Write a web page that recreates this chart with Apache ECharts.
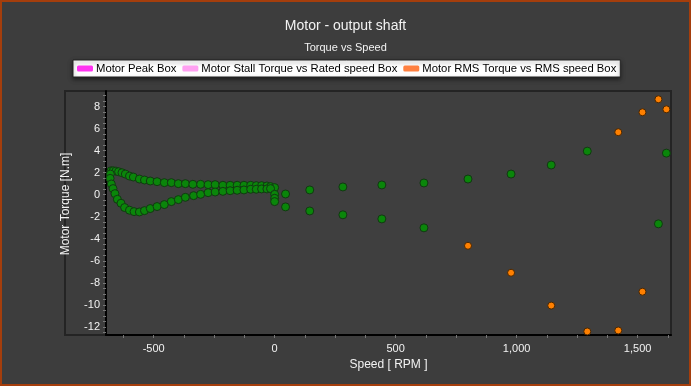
<!DOCTYPE html>
<html>
<head>
<meta charset="utf-8">
<script src="https://cdn.jsdelivr.net/npm/echarts@6/dist/echarts.min.js"></script>
<style>
html,body{margin:0;padding:0;background:#3d3d3d;}
#c{width:691px;height:386px;}
</style>
</head>
<body>
<div id="c"></div>
<script>
// Motor curve (green) - speed [RPM] and torque [N.m]
var motorSpeed = [
  -676,-667,-656,-645,-631,-617,-600,-584,-559,-538,-514,-486,-456,-427,-398,-369,-338,-306,-275,-246,-214,-184,-155,-127,-99,-76,-54,-32,-17,0,
  -679,-680,-675,-668,-660,-650,-635,-620,-600,-581,-559,-538,-514,-486,-456,-427,-398,-369,-335,-306,-275,-246,-214,-184,-155,-127,-99,-76,-54,-32,-17,
  0,0,0,
  45,45,145,145,282,282,443,443,617,617,799,977,1143,1292,1619,1586
];
var motorTorque = [
  2.17,2.17,2.14,2.08,1.99,1.87,1.69,1.60,1.42,1.33,1.24,1.18,1.09,1.09,1.00,1.00,0.94,0.94,0.91,0.91,0.85,0.85,0.85,0.85,0.85,0.82,0.82,0.79,0.73,0.64,
  1.87,1.48,0.97,0.55,0.09,-0.42,-0.78,-1.17,-1.41,-1.54,-1.57,-1.45,-1.26,-1.08,-0.90,-0.63,-0.45,-0.24,-0.09,0.03,0.18,0.24,0.30,0.36,0.40,0.43,0.49,0.49,0.52,0.52,0.55,
  0.03,-0.33,-0.63,
  0.06,-1.11,0.43,-1.48,0.70,-1.83,0.88,-2.20,1.06,-3.01,1.42,1.87,2.69,3.95,3.77,-2.65
];
// RMS box points (orange)
var rmsSpeed  = [799,977,1143,1292,1420,1520,1420,1520,1586,1619];
var rmsTorque = [-4.64,-7.09,-10.07,-12.42,-12.33,-8.81,5.67,7.48,8.66,7.75];

var legendNames = ['Motor Peak Box','Motor Stall Torque vs Rated speed Box','Motor RMS Torque vs RMS speed Box'];
var legendColors = ['#ff00ee','#ff88ee','#ff8040'];
var xLabels = [-500,0,500,1000,1500];
var yLabels = [-12,-10,-8,-6,-4,-2,0,2,4,6,8];

function zip(a,b){var r=[];for(var i=0;i<a.length;i++)r.push([a[i],b[i]]);return r;}
var xTicks=[];for(var v=-625;v<=1625;v+=125)xTicks.push(v);
var yTicks=[];for(var w=-12.5;w<=9;w+=0.5)yTicks.push(w);

var chart = echarts.init(document.getElementById('c'));
chart.setOption({
  backgroundColor:'#3d3d3d',
  animation:false,
  title:{
    text:'Motor - output shaft',
    subtext:'Torque vs Speed',
    left:'center', top:14, itemGap:9,
    textStyle:{color:'#f2f2f2',fontSize:14,fontWeight:'normal',fontFamily:'Liberation Sans'},
    subtextStyle:{color:'#f2f2f2',fontSize:11,fontFamily:'Liberation Sans'}
  },
  legend:{
    data: legendNames.map(function(n,i){return {name:n,itemStyle:{color:legendColors[i],borderWidth:0}};}),
    left:73, top:60,
    backgroundColor:'#ffffff', borderColor:'#222', borderWidth:1, borderRadius:0,
    padding:[3,4,3,4], itemGap:6,
    itemWidth:16, itemHeight:6, icon:'roundRect',
    shadowBlur:4, shadowColor:'rgba(0,0,0,0.5)', shadowOffsetY:2,
    textStyle:{color:'#000',fontSize:11.3,fontFamily:'Liberation Sans',padding:[0,0,0,-2]},
    selectedMode:false
  },
  grid:{left:106,right:20,top:91,bottom:51,show:true,borderColor:'#242424',borderWidth:2,backgroundColor:'#3f3f3f'},
  graphic:[
    {type:'rect',shape:{x:65,y:91,width:41,height:244},style:{fill:'none',stroke:'#242424',lineWidth:2},z:-1},
    {type:'rect',shape:{x:1,y:1,width:689,height:384},style:{fill:'none',stroke:'#a53e0c',lineWidth:2},z:10}
  ],
  xAxis:{
    type:'value', min:-697, max:1638,
    name:'Speed [ RPM ]', nameLocation:'middle', nameGap:23,
    nameTextStyle:{color:'#f2f2f2',fontSize:12,fontFamily:'Liberation Sans'},
    axisLine:{show:true,onZero:false,lineStyle:{color:'#000',width:2}},
    axisTick:{show:true,customValues:xTicks,length:3,lineStyle:{color:'#777'}},
    axisLabel:{customValues:xLabels,color:'#f2f2f2',fontSize:11,fontFamily:'Liberation Sans',margin:8,
      formatter:function(v){return v.toLocaleString('en-US');}},
    splitLine:{show:false}
  },
  yAxis:{
    type:'value', min:-12.74, max:9.41,
    name:'Motor Torque [N.m]', nameLocation:'middle', nameGap:34, nameRotate:90,
    nameTextStyle:{color:'#f2f2f2',fontSize:12,fontFamily:'Liberation Sans',padding:[0,0,0,18]},
    axisLine:{show:true,onZero:false,lineStyle:{color:'#000',width:2}},
    axisTick:{show:true,customValues:yTicks,length:3,lineStyle:{color:'#777'}},
    axisLabel:{customValues:yLabels,color:'#f2f2f2',fontSize:11,fontFamily:'Liberation Sans',margin:6},
    splitLine:{show:false}
  },
  series:[
    {name:'Motor',type:'scatter',symbol:'circle',symbolSize:8,data:zip(motorSpeed,motorTorque),
      itemStyle:{color:'#0a860a',borderColor:'#123812',borderWidth:1,opacity:1},clip:false},
    {name:legendNames[0],type:'scatter',data:[],itemStyle:{color:legendColors[0]}},
    {name:legendNames[1],type:'scatter',data:[],itemStyle:{color:legendColors[1]}},
    {name:legendNames[2],type:'scatter',symbol:'circle',symbolSize:7,data:zip(rmsSpeed,rmsTorque),
      itemStyle:{color:'#ff8000',borderColor:'#4a2600',borderWidth:1,opacity:1},clip:false}
  ]
});
</script>
</body>
</html>
